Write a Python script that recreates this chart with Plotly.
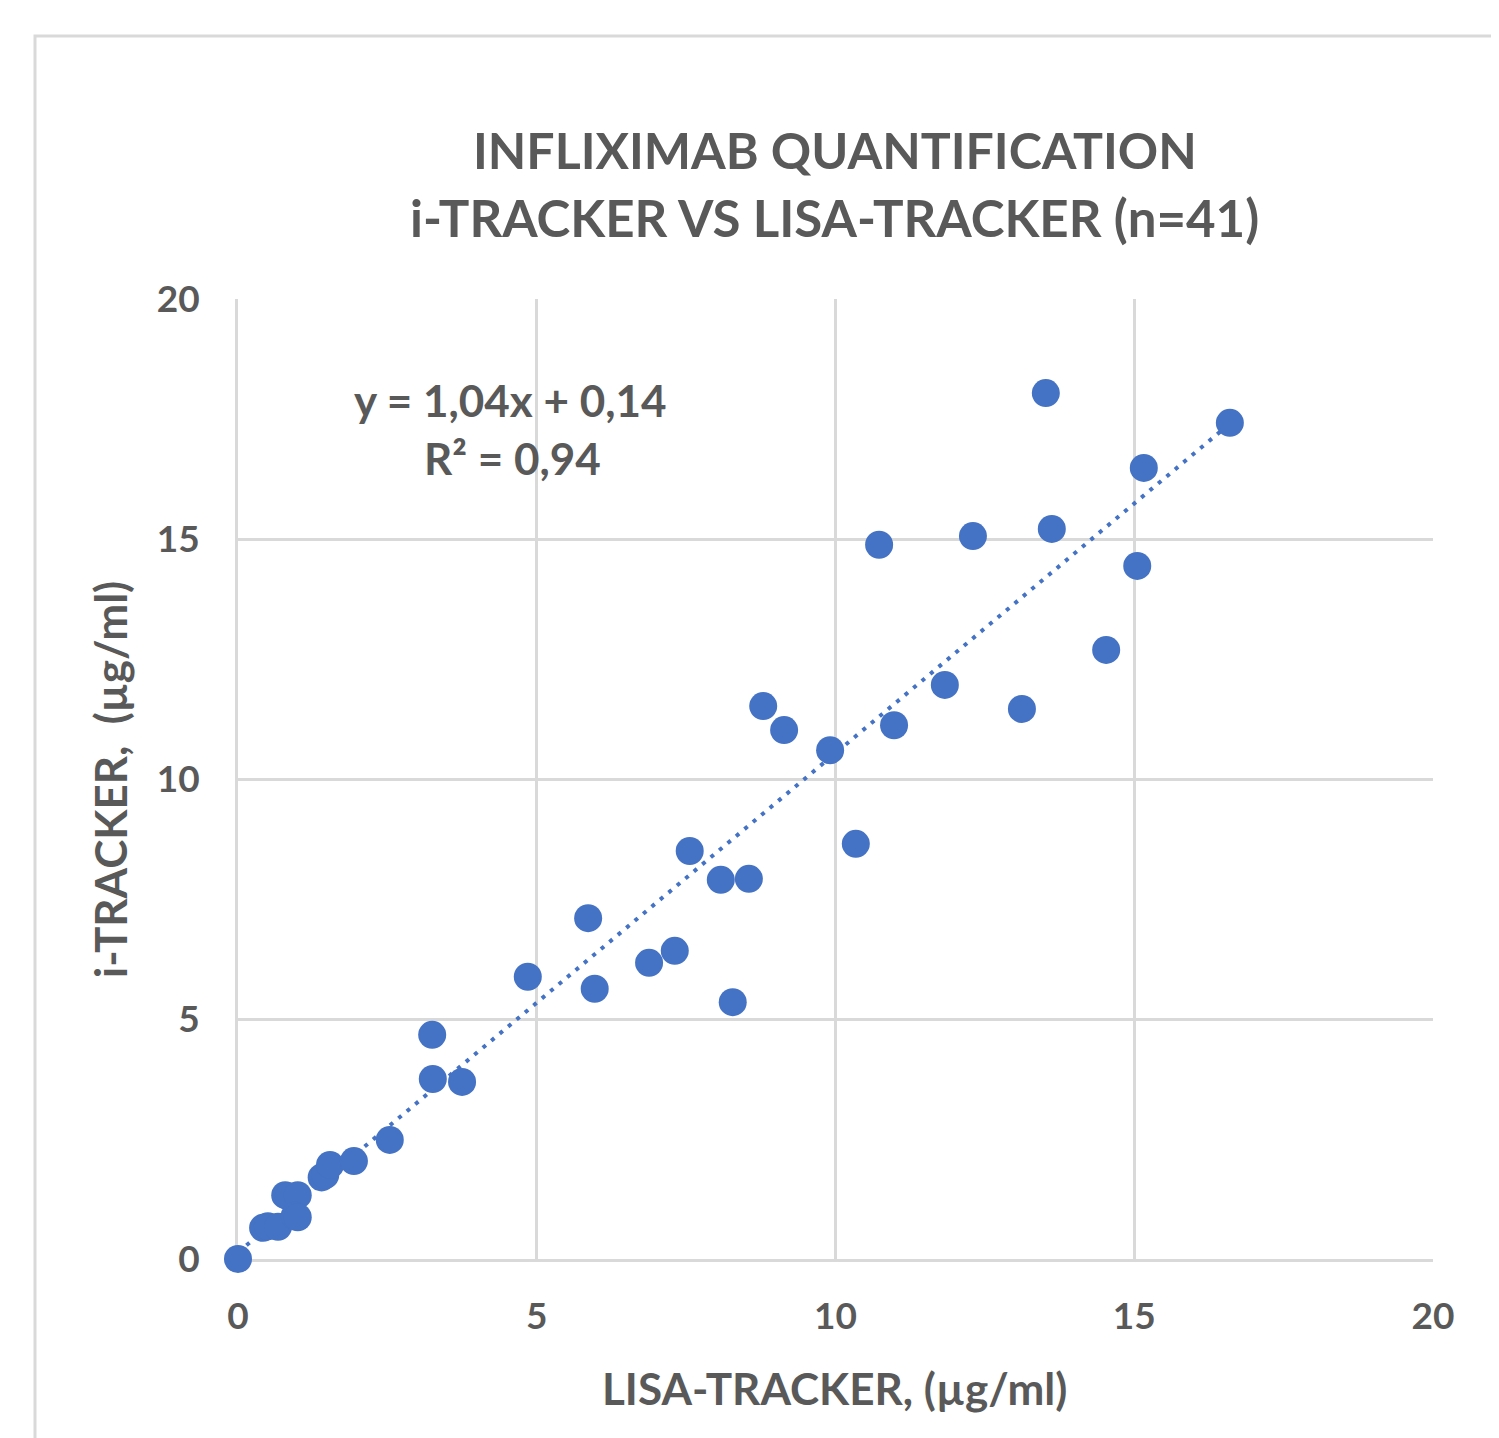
import plotly.graph_objects as go

# Data (LISA-TRACKER vs i-TRACKER, µg/ml)
lisa = [0.0, 0.42, 0.5, 0.67, 0.79, 0.85, 1.0, 0.95, 1.0, 1.4, 1.46, 1.54, 1.94, 2.54,
        3.25, 3.26, 3.75, 4.85, 5.86, 5.97, 6.88, 7.31, 7.56, 8.08, 8.55, 8.28,
        8.79, 9.14, 9.91, 10.34, 10.73, 10.98, 11.83, 12.30, 13.12, 13.52, 13.62,
        14.53, 15.05, 15.16, 16.60]
itrk = [0.0, 0.65, 0.68, 0.67, 1.33, 1.30, 1.33, 0.90, 0.87, 1.70, 1.75, 1.96, 2.04, 2.48,
        4.67, 3.75, 3.69, 5.88, 7.10, 5.63, 6.17, 6.42, 8.50, 7.90, 7.92, 5.35,
        11.52, 11.02, 10.60, 8.65, 14.88, 11.12, 11.96, 15.06, 11.46, 18.04, 15.21,
        12.69, 14.44, 16.48, 17.42]
slope, intercept = 1.04, 0.14
trend_x = [0.0, max(lisa)]
trend_y = [slope * v + intercept for v in trend_x]
ticks = [0, 5, 10, 15, 20]
tick_labels = ["0", "5", "10", "15", "20"]

BLUE = "#4472C4"
TXT = "#595959"
GRID = "#D9D9D9"
FONT = "Lato"

# page offset of the figure (body margin)
OFF = 8
PL, PR, PT, PB = 238, 1433, 299, 1259  # plot area in page pixels
PW, PH = PR - PL, PB - PT


def px(x):
    return (x - PL) / PW


def py(y):
    return (PB - y) / PH


fig = go.Figure()
fig.add_trace(go.Scatter(x=trend_x, y=trend_y, mode="lines",
                         line=dict(color=BLUE, width=4, dash="4px,7px"),
                         hoverinfo="skip", showlegend=False, cliponaxis=False))
fig.add_trace(go.Scatter(x=lisa, y=itrk, mode="markers",
                         marker=dict(color=BLUE, size=28, line=dict(width=0)),
                         showlegend=False, cliponaxis=False))

axis_common = dict(range=[0, 20], tickvals=ticks, ticktext=tick_labels,
                   showgrid=True, gridcolor=GRID, gridwidth=3,
                   zeroline=False, showline=True, linecolor=GRID, linewidth=3,
                   mirror=False, ticks="",
                   tickfont=dict(family=FONT, size=37, color=TXT, weight="bold"),
                   fixedrange=True, layer="below traces")

fig.update_layout(
    width=1499 - OFF, height=1438 - OFF,
    margin=dict(l=PL - OFF, r=1499 - PR, t=PT - OFF, b=1438 - PB),
    paper_bgcolor="white", plot_bgcolor="white",
    xaxis=dict(axis_common, ticklabelstandoff=23),
    yaxis=dict(axis_common, ticklabelstandoff=28),
    font=dict(family=FONT, color=TXT),
    annotations=[
        dict(text="INFLIXIMAB QUANTIFICATION", xref="paper", yref="paper",
             x=px(835), y=py(150), showarrow=False, xanchor="center", yanchor="middle",
             font=dict(family=FONT, size=50, color=TXT, weight="bold")),
        dict(text="i-TRACKER VS LISA-TRACKER (n=41)", xref="paper", yref="paper",
             x=px(834), y=py(218), showarrow=False, xanchor="center", yanchor="middle",
             font=dict(family=FONT, size=51, color=TXT, weight="bold")),
        dict(text="y = 1,04x + 0,14", xref="paper", yref="paper",
             x=px(510), y=py(400), showarrow=False,
             xanchor="center", yanchor="middle",
             font=dict(family=FONT, size=44, color=TXT, weight="bold")),
        dict(text="R² = 0,94", xref="paper", yref="paper",
             x=px(512), y=py(458), showarrow=False,
             xanchor="center", yanchor="middle",
             font=dict(family=FONT, size=44, color=TXT, weight="bold")),
        dict(text="LISA-TRACKER, (µg/ml)", xref="paper", yref="paper",
             x=px(834), y=py(1388), showarrow=False,
             xanchor="center", yanchor="middle",
             font=dict(family=FONT, size=44, color=TXT, weight="bold")),
        dict(text="i-TRACKER,  (µg/ml)", xref="paper", yref="paper",
             x=px(110), y=py(780), showarrow=False, textangle=-90,
             xanchor="center", yanchor="middle",
             font=dict(family=FONT, size=44, color=TXT, weight="bold")),
    ],
    shapes=[
        dict(type="rect", xref="paper", yref="paper",
             x0=px(35), x1=1.2, y0=-0.3, y1=py(36),
             line=dict(color=GRID, width=3), fillcolor="rgba(0,0,0,0)", layer="below"),
    ],
)

fig.write_html("out.html")
